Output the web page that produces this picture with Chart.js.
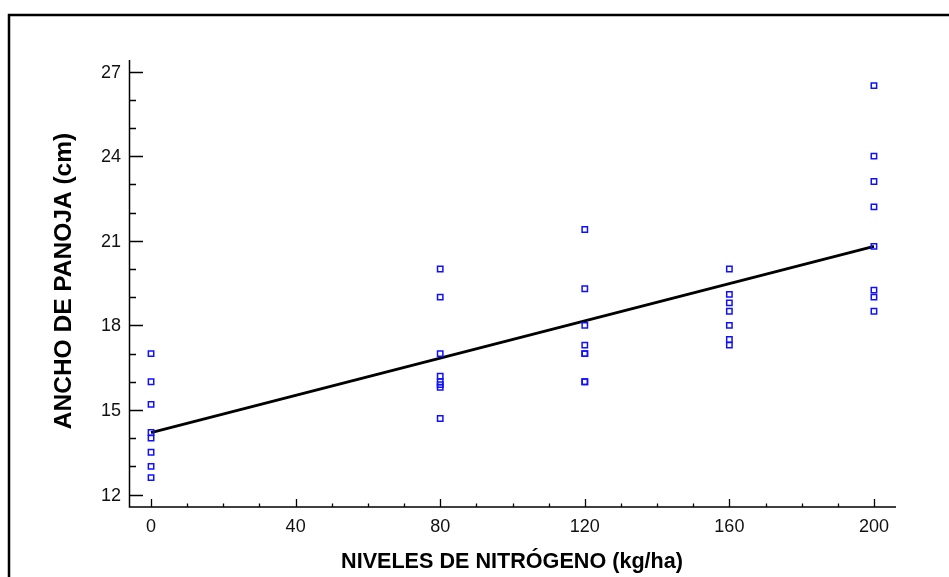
<!DOCTYPE html>
<html lang="es">
<head>
<meta charset="UTF-8">
<title>Ancho de panoja vs nitrógeno</title>
<script src="https://cdn.jsdelivr.net/npm/chart.js"></script>
<style>
    html, body { margin: 0; padding: 0; background: #fff; }
    #wrap { position: relative; width: 949px; height: 577px; }
</style>
</head>
<body>
<div id="wrap"><canvas id="panojaChart" width="949" height="577"></canvas></div>
<script>
// observaciones por nivel de nitrógeno (kg/ha)
const niveles = [0, 80, 120, 160, 200];
const ancho0   = [17.0, 16.0, 15.2, 14.2, 14.0, 13.5, 13.0, 12.6];
const ancho80  = [20.0, 19.0, 17.0, 16.2, 16.0, 15.9, 15.8, 14.7];
const ancho120 = [21.4, 19.3, 18.0, 17.3, 17.0, 17.0, 16.0, 16.0];
const ancho160 = [20.0, 19.1, 18.8, 18.5, 18.0, 17.5, 17.3];
const ancho200 = [26.5, 24.0, 23.1, 22.2, 20.8, 19.25, 19.0, 18.5];

// recta de regresión ajustada
const rectaX = [0, 200];
const rectaY = [14.2, 20.8];

const xTicks = [0, 40, 80, 120, 160, 200];
const yTicks = [12, 15, 18, 21, 24, 27];

const grupos = [ancho0, ancho80, ancho120, ancho160, ancho200];
const puntos = [];
grupos.forEach((vals, i) => vals.forEach(v => puntos.push({ x: niveles[i], y: v })));

const FONT = '"Liberation Sans", Arial, sans-serif';

// ejes dibujados a mano: marcas hacia dentro, como en el gráfico de Statgraphics
const ejes = {
    id: 'ejes',
    beforeDraw(chart) {
        const ctx = chart.ctx;
        ctx.save();
        ctx.fillStyle = '#fff';
        ctx.fillRect(0, 0, chart.width, chart.height);
        // marco exterior
        ctx.strokeStyle = '#000';
        ctx.lineWidth = 2.5;
        ctx.strokeRect(9, 15, 1000, 700);
        ctx.restore();
    },
    afterDraw(chart) {
        const ctx = chart.ctx;
        const a = chart.chartArea;
        const xs = chart.scales.x, ys = chart.scales.y;
        ctx.save();
        ctx.strokeStyle = '#000';
        ctx.fillStyle = '#111';
        ctx.lineWidth = 1.5;
        ctx.beginPath();
        ctx.moveTo(a.left + 0.5, a.top);
        ctx.lineTo(a.left + 0.5, a.bottom);
        ctx.lineTo(a.right, a.bottom);
        ctx.stroke();

        // eje x
        ctx.lineWidth = 1.3;
        ctx.beginPath();
        for (let v = 0; v <= 200; v += 10) {
            const px = Math.round(xs.getPixelForValue(v)) + 0.5;
            const len = (v % 40 === 0) ? 8 : 3.5;
            ctx.moveTo(px, a.bottom);
            ctx.lineTo(px, a.bottom - len);
        }
        // eje y
        for (let v = 12; v <= 27; v++) {
            const py = Math.round(ys.getPixelForValue(v)) + 0.5;
            const len = (v % 3 === 0) ? 14 : 7;
            ctx.moveTo(a.left, py);
            ctx.lineTo(a.left + len, py);
        }
        ctx.stroke();

        ctx.font = '18px ' + FONT;
        ctx.textAlign = 'center';
        ctx.textBaseline = 'middle';
        xTicks.forEach(v => ctx.fillText(String(v), xs.getPixelForValue(v), 527));
        ctx.textAlign = 'right';
        yTicks.forEach(v => ctx.fillText(String(v), 121, ys.getPixelForValue(v) + 1));

        ctx.fillStyle = '#000';
        ctx.font = 'bold 21.6px ' + FONT;
        ctx.textAlign = 'center';
        ctx.fillText('NIVELES DE NITRÓGENO (kg/ha)', 512, 562);
        ctx.font = 'bold 24.5px ' + FONT;
        ctx.translate(64, 281);
        ctx.rotate(-Math.PI / 2);
        ctx.fillText('ANCHO DE PANOJA (cm)', 0, 0);
        ctx.restore();
    }
};

new Chart(document.getElementById('panojaChart'), {
    type: 'scatter',
    data: {
        datasets: [{
            label: 'Observado',
            data: puntos,
            pointStyle: 'rect',
            pointRadius: 3.8,
            borderColor: '#1010ff',
            backgroundColor: 'rgba(0,0,0,0)',
            borderWidth: 1.5,
            order: 1
        }, {
            label: 'Ajuste',
            type: 'line',
            data: rectaX.map((x, i) => ({ x: x, y: rectaY[i] })),
            borderColor: '#000',
            borderWidth: 2.8,
            pointRadius: 0,
            fill: false,
            order: 2
        }]
    },
    options: {
        responsive: false,
        animation: false,
        layout: { padding: { left: 129, right: 53, top: 60, bottom: 70 } },
        plugins: { legend: { display: false }, tooltip: { enabled: false } },
        scales: {
            x: { type: 'linear', min: -6.1, max: 206.1, display: false },
            y: { type: 'linear', min: 11.56, max: 27.41, display: false }
        }
    },
    plugins: [ejes]
});
</script>
</body>
</html>
